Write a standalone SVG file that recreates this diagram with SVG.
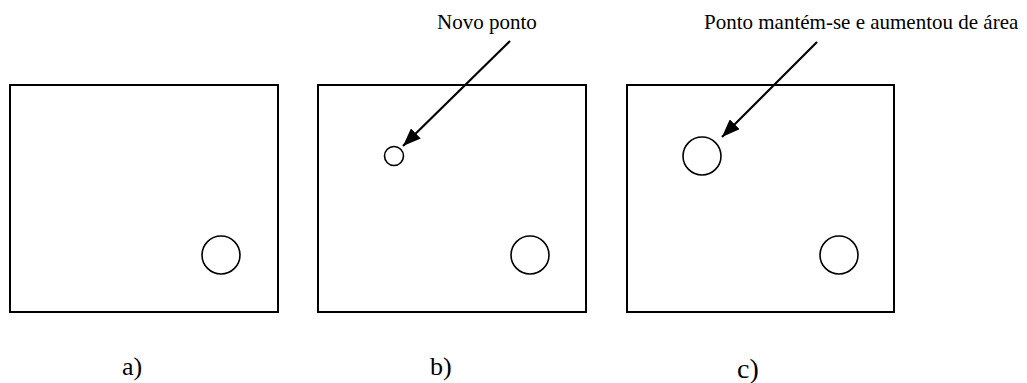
<svg xmlns="http://www.w3.org/2000/svg" width="1027" height="383" viewBox="0 0 1027 383">
<style>
.box{fill:none;stroke:#000;stroke-width:2}
.pt{fill:none;stroke:#000;stroke-width:1.6}
.ann{font-family:"Liberation Serif","Times New Roman",serif;font-size:21px;fill:#000}
.lbl{font-family:"Liberation Serif","Times New Roman",serif;font-size:26px;fill:#000}
.arr{stroke:#000;stroke-width:2.2;fill:none}
</style>
<defs>
<marker id="ah" markerUnits="userSpaceOnUse" markerWidth="20" markerHeight="14" refX="18" refY="7" orient="auto">
<path d="M0,0 L18,7 L0,14 Z" fill="#000"/>
</marker>
</defs>
<rect width="1027" height="383" fill="#fff"/>
<g id="panel-a">
<rect class="box" x="10" y="85" width="268" height="227"/>
<circle class="pt" cx="221" cy="255" r="19"/>
<text class="lbl" x="122" y="375">a)</text>
</g>
<g id="panel-b">
<rect class="box" x="318" y="85" width="268" height="227"/>
<circle class="pt" cx="394" cy="156" r="9.5"/>
<circle class="pt" cx="530" cy="255" r="19"/>
<text class="lbl" x="430" y="375">b)</text>
</g>
<g id="panel-c">
<rect class="box" x="627" y="85" width="267" height="227"/>
<circle class="pt" cx="702" cy="156" r="19"/>
<circle class="pt" cx="839" cy="255" r="19"/>
<text class="lbl" x="737" y="378" style="font-size:28px">c)</text>
</g>
<g id="label-novo">
<text class="ann" x="437" y="29">Novo ponto</text>
</g>
<g id="label-mantem">
<text class="ann" x="704" y="29">Ponto mantém-se e aumentou de área</text>
</g>
<g id="connectors">
<line class="arr" x1="510" y1="41" x2="403" y2="146" marker-end="url(#ah)"/>
<line class="arr" x1="817" y1="42" x2="722" y2="137" marker-end="url(#ah)"/>
</g>
</svg>
